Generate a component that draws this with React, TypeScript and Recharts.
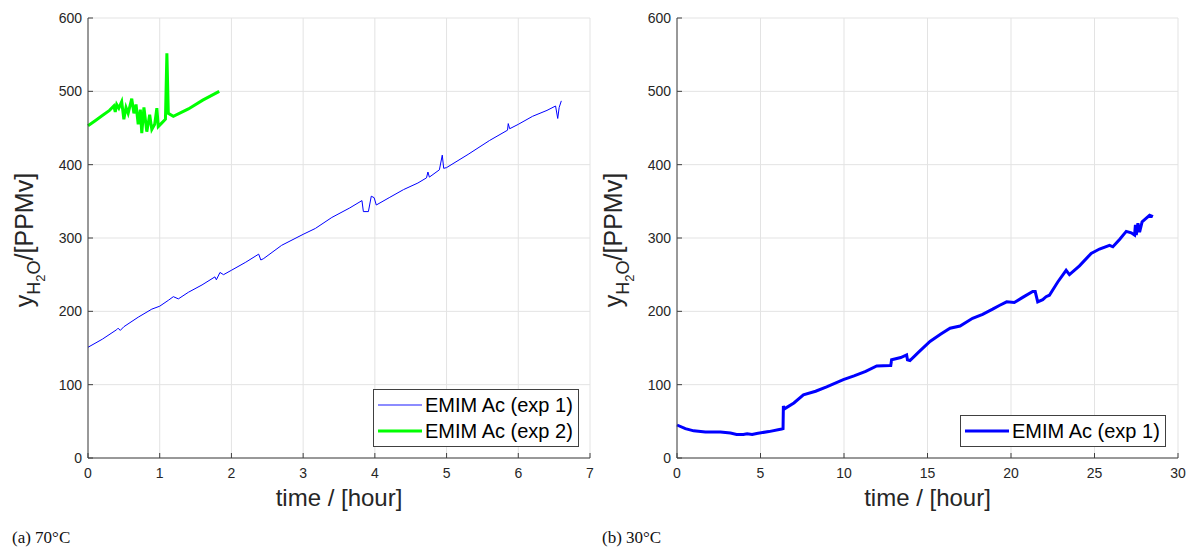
import { LineChart, Line, XAxis, YAxis, CartesianGrid, Legend } from "recharts";

// (a) 70°C — experiment 1 (hours, ppmv)
const A_EXP1_TIME = [
  0, 0.2, 0.4, 0.42, 0.45, 0.5, 0.7, 0.89, 1.0, 1.12, 1.19, 1.26, 1.4, 1.59, 1.77, 1.79, 1.84, 1.89,
  2.0, 2.2, 2.38, 2.41, 2.45, 2.7, 3.0, 3.17, 3.4, 3.65, 3.82, 3.84, 3.91, 3.95, 3.99, 4.02, 4.2,
  4.4, 4.6, 4.72, 4.74, 4.76, 4.9, 4.94, 4.96, 5.0, 5.3, 5.6, 5.85, 5.86, 5.88, 6.0, 6.2, 6.4,
  6.52, 6.55, 6.57, 6.6,
];
const A_EXP1_PPM = [
  151, 162, 175, 177, 174, 179, 192, 203, 207, 215, 220, 217, 226, 236, 247, 243, 253, 250,
  256, 267, 278, 270, 272, 290, 305, 313, 328, 341, 351, 336, 336, 357, 355, 345, 355,
  366, 375, 382, 390, 383, 393, 413, 395, 396, 414, 433, 447, 456, 449, 455, 466, 474,
  480, 463, 478, 487,
];

// (a) 70°C — experiment 2
const A_EXP2_TIME = [
  0, 0.1, 0.2, 0.3, 0.36, 0.38, 0.4, 0.43, 0.47, 0.5, 0.53, 0.56, 0.61, 0.64, 0.67, 0.7, 0.73,
  0.75, 0.78, 0.82, 0.86, 0.89, 0.93, 0.96, 0.98, 1.02, 1.08, 1.1, 1.12, 1.19, 1.4, 1.6, 1.83,
];
const A_EXP2_PPM = [
  453, 460, 467, 474, 480, 472, 482, 477, 486, 462, 478, 470, 490, 470, 482, 455, 475,
  443, 478, 445, 468, 448, 455, 477, 452, 456, 462, 552, 470, 466, 476, 488, 500,
];

// (b) 30°C — experiment 1
const B_EXP1_TIME = [
  0, 0.5, 1.0, 1.7, 2.6, 3.2, 3.57, 3.97, 4.2, 4.5, 4.77, 5.5, 6.27, 6.35, 6.37, 6.43, 7.0, 7.57,
  8.3, 8.96, 9.96, 10.6, 11.3, 11.96, 12.75, 12.8, 12.85, 13.4, 13.75, 13.8, 13.95, 14.5, 15.15,
  15.8, 16.35, 16.95, 17.7, 18.3, 18.9, 19.3, 19.74, 20.2, 20.7, 21.3, 21.45, 21.6, 21.9, 22.1,
  22.3, 22.8, 23.3, 23.5, 24.1, 24.8, 25.3, 25.9, 26.1, 26.5, 26.9, 27.2, 27.4, 27.45, 27.5,
  27.6, 27.7, 27.85, 28.0, 28.3, 28.5,
];
const B_EXP1_PPM = [
  45, 40, 37, 35.5, 35.5, 34, 32, 32, 33, 32, 33.5, 36, 39.5, 40, 71, 67, 75, 86,
  91, 97, 107, 112, 118, 125.5, 126, 126, 134, 137, 140.5, 134, 133, 145, 159,
  169, 177, 180, 190.5, 196, 203, 208, 213, 212, 219, 227, 227, 213, 216, 220,
  222, 240, 256, 250, 262, 279, 285, 290, 288, 298, 309, 307, 304, 318, 304,
  320, 308, 322, 325, 331, 329,
];

const Y_TICKS = [0, 100, 200, 300, 400, 500, 600];
const A_X_TICKS = [0, 1, 2, 3, 4, 5, 6, 7];
const B_X_TICKS = [0, 5, 10, 15, 20, 25, 30];

const toPoints = (t: number[], v: number[]) => t.map((x, i) => ({ t: x, v: v[i] }));

type Serie = { name: string; color: string; width: number; data: { t: number; v: number }[] };

const SANS = "'Liberation Sans', Arial, sans-serif";
const AXIS = "#404040";
const GRID = "#e3e3e3";

function YTitle(props: any) {
  const vb = props.viewBox || { x: 0, y: 18, width: 88, height: 440 };
  const x = vb.x + vb.width - 55;
  const y = vb.y + vb.height / 2 + 2;
  return (
    <text
      x={x}
      y={y}
      transform={`rotate(-90 ${x} ${y})`}
      textAnchor="middle"
      fill="#262626"
      fontFamily={SANS}
      fontSize={25}
    >
      y
      <tspan fontSize={18} dy={7}>H</tspan>
      <tspan fontSize={13} dy={5}>2</tspan>
      <tspan fontSize={18} dy={-5}>O</tspan>
      <tspan dy={-7}>/[PPMv]</tspan>
    </text>
  );
}

function XTitle(props: any) {
  const vb = props.viewBox || { x: 88, y: 458, width: 502, height: 62 };
  return (
    <text
      x={vb.x + vb.width / 2}
      y={vb.y + 48}
      textAnchor="middle"
      fill="#262626"
      fontFamily={SANS}
      fontSize={24}
    >
      time / [hour]
    </text>
  );
}

function Panel({
  width,
  yAxisWidth,
  xMax,
  xTicks,
  series,
  legendLeft,
  legendTop,
}: {
  width: number;
  yAxisWidth: number;
  xMax: number;
  xTicks: number[];
  series: Serie[];
  legendLeft: number;
  legendTop: number;
}) {
  const renderLegend = () => (
    <div
      style={{
        boxSizing: "border-box",
        width: 206,
        border: `1px solid ${AXIS}`,
        background: "#fff",
        padding: "2px 4px 2px 4px",
        fontFamily: SANS,
        fontSize: 20,
        color: "#000",
        lineHeight: "26px",
      }}
    >
      {series.map((s) => (
        <div key={s.name} style={{ display: "flex", alignItems: "center", whiteSpace: "nowrap" }}>
          <svg width={44} height={10} style={{ marginRight: 3 }}>
            <line x1={0} y1={5} x2={44} y2={5} stroke={s.color} strokeWidth={s.width === 1 ? 1.5 : 3} opacity={s.width === 1 ? 0.6 : 1} />
          </svg>
          {s.name}
        </div>
      ))}
    </div>
  );

  return (
    <LineChart width={width} height={520} margin={{ top: 18, right: 10, bottom: 0, left: 0 }}>
      <CartesianGrid stroke={GRID} strokeWidth={1} />
      <XAxis
        dataKey="t"
        type="number"
        domain={[0, xMax]}
        ticks={xTicks}
        allowDuplicatedCategory={false}
        height={62}
        tickSize={-5}
        tickMargin={15}
        stroke={AXIS}
        tick={{ fill: "#262626", fontSize: 14, fontFamily: SANS }}
        label={XTitle}
      />
      <YAxis
        type="number"
        domain={[0, 600]}
        ticks={Y_TICKS}
        width={yAxisWidth}
        tickSize={-5}
        tickMargin={11}
        stroke={AXIS}
        tick={{ fill: "#262626", fontSize: 14, fontFamily: SANS }}
        label={YTitle}
      />
      <Legend
        layout="vertical"
        align="center"
        verticalAlign="middle"
        content={renderLegend}
        wrapperStyle={{ left: legendLeft, top: legendTop, width: "auto", height: "auto" }}
      />
      {series.map((s) => (
        <Line
          key={s.name}
          data={s.data}
          dataKey="v"
          name={s.name}
          stroke={s.color}
          strokeWidth={s.width}
          dot={false}
          activeDot={false}
          type="linear"
          isAnimationActive={false}
        />
      ))}
    </LineChart>
  );
}

export default function App() {
  const seriesA: Serie[] = [
    { name: "EMIM Ac (exp 1)", color: "#0000ff", width: 1, data: toPoints(A_EXP1_TIME, A_EXP1_PPM) },
    { name: "EMIM Ac (exp 2)", color: "#00ff00", width: 3, data: toPoints(A_EXP2_TIME, A_EXP2_PPM) },
  ];
  const seriesB: Serie[] = [
    { name: "EMIM Ac (exp 1)", color: "#0000ff", width: 3, data: toPoints(B_EXP1_TIME, B_EXP1_PPM) },
  ];
  const caption = {
    position: "absolute" as const,
    top: 528,
    fontFamily: "'Liberation Serif', 'DejaVu Serif', serif",
    fontSize: 17,
    color: "#111",
  };

  return (
    <div style={{ position: "absolute", left: 0, top: 0, width: 1188, height: 548, background: "#fff" }}>
      <div style={{ position: "absolute", left: 0, top: 0 }}>
        <Panel width={600} yAxisWidth={88} xMax={7} xTicks={A_X_TICKS} series={seriesA} legendLeft={373} legendTop={389} />
      </div>
      <div style={{ position: "absolute", left: 600, top: 0 }}>
        <Panel width={588} yAxisWidth={77} xMax={30} xTicks={B_X_TICKS} series={seriesB} legendLeft={360} legendTop={415} />
      </div>
      <div style={{ ...caption, left: 12 }}>(a) 70°C</div>
      <div style={{ ...caption, left: 602 }}>(b) 30°C</div>
    </div>
  );
}
